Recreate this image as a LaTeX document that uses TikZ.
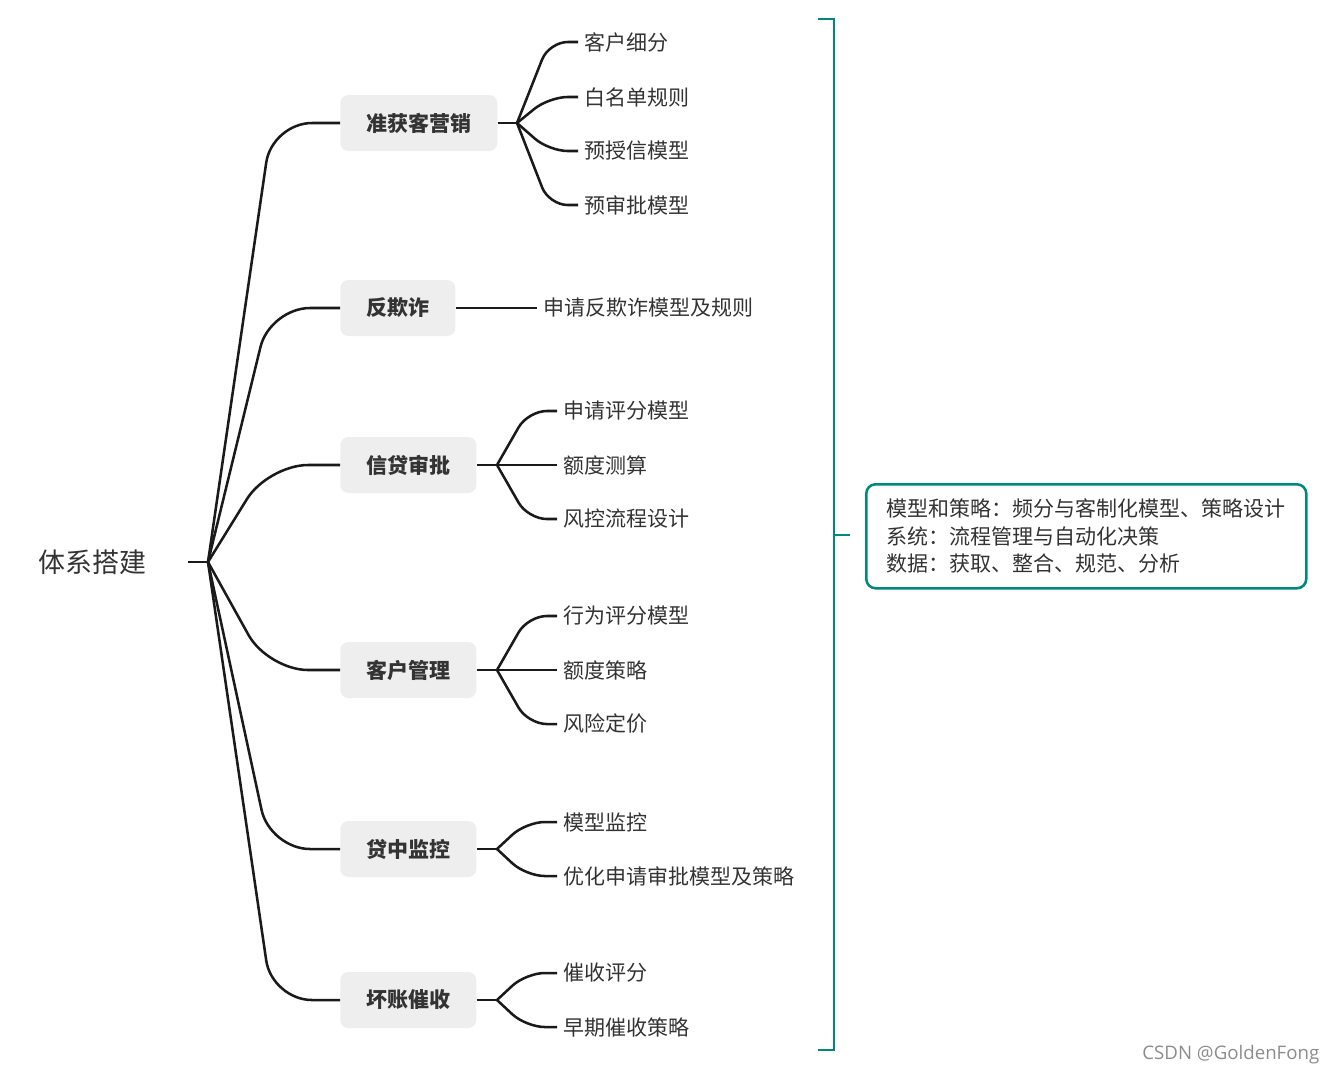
\documentclass[tikz,border=0pt]{standalone}
\usepackage{fontspec}
\setmainfont{Noto Sans CJK SC}
\newfontfamily\wmfont{Open Sans}
\usetikzlibrary{positioning}

\definecolor{tealline}{RGB}{0,137,123}
\definecolor{branchfill}{RGB}{238,238,238}
\definecolor{linedark}{RGB}{26,26,26}
\definecolor{textdark}{RGB}{51,51,51}

\tikzset{
  rootnode/.style={font=\fontsize{20.25}{24}\selectfont, text=textdark, inner xsep=31.5pt},
  branch/.style={fill=branchfill, rounded corners=6pt, font=\fontsize{15.75}{18}\selectfont\bfseries,
    text=textdark, minimum height=42pt, inner xsep=19.5pt, anchor=west},
  leaf/.style={font=\fontsize{15.75}{18}\selectfont, text=textdark, inner xsep=5pt, inner ysep=1pt, anchor=west},
  mainlink/.style={draw=linedark, line width=1.9pt, rounded corners=30pt},
  leaflink/.style={draw=linedark, line width=1.9pt, rounded corners=14pt},
  bracket/.style={draw=tealline, line width=2.2pt},
  summary/.style={draw=tealline, line width=1.9pt, rounded corners=7pt, align=left,
    font=\fontsize{15.75}{20.6}\selectfont, text=textdark, text width=300pt, minimum height=78pt,
    inner xsep=15pt, anchor=north west}
}

\begin{document}
\begin{tikzpicture}[x=0.75pt, y=-0.75pt]
    \useasboundingbox (0,0) rectangle (1338,1076);

    % Root
    \node[rootnode] (root) at (92,562) {体系搭建};
    \coordinate (hub) at (208,562);
    \draw[mainlink] (root.east) -- (hub);

    % Branches
    \node[branch] (acq) at (340,123) {准获客营销};
    \node[branch] (fraud) at (340,308) {反欺诈};
    \node[branch] (approve) at (340,465) {信贷审批};
    \node[branch] (manage) at (340,670) {客户管理};
    \node[branch] (monitor) at (340,849) {贷中监控};
    \node[branch] (collect) at (340,1000) {坏账催收};

    \draw[mainlink] (hub) -- (272,123) -- (acq.west);
    \draw[mainlink] (hub) -- (270,308) -- (fraud.west);
    \draw[mainlink] (hub) -- (268,465) -- (approve.west);
    \draw[mainlink] (hub) -- (268,670) -- (manage.west);
    \draw[mainlink] (hub) -- (270,849) -- (monitor.west);
    \draw[mainlink] (hub) -- (272,1000) -- (collect.west);

    % Leaves - 准获客营销
    \coordinate (acqfan) at (517,123);
    \node[leaf] (acq1) at (578,42) {客户细分};
    \node[leaf] (acq2) at (578,97) {白名单规则};
    \node[leaf] (acq3) at (578,151) {预授信模型};
    \node[leaf] (acq4) at (578,205) {预审批模型};
    \draw[leaflink] (acq.east) -- (acqfan);
    \draw[leaflink] (acqfan) -- (549,42) -- (acq1.west);
    \draw[leaflink] (acqfan) -- (549,97) -- (acq2.west);
    \draw[leaflink] (acqfan) -- (549,151) -- (acq3.west);
    \draw[leaflink] (acqfan) -- (549,205) -- (acq4.west);

    % Leaves - 反欺诈
    \node[leaf] (fraud1) at (537,308) {申请反欺诈模型及规则};
    \draw[leaflink] (fraud.east) -- (fraud1.west);

    % Leaves - 信贷审批
    \coordinate (approvefan) at (497,465);
    \node[leaf] (approve1) at (557,411) {申请评分模型};
    \node[leaf] (approve2) at (557,465) {额度测算};
    \node[leaf] (approve3) at (557,519) {风控流程设计};
    \draw[leaflink] (approve.east) -- (approvefan);
    \draw[leaflink] (approvefan) -- (528,411) -- (approve1.west);
    \draw[leaflink] (approvefan) -- (approve2.west);
    \draw[leaflink] (approvefan) -- (528,519) -- (approve3.west);

    % Leaves - 客户管理
    \coordinate (managefan) at (497,670);
    \node[leaf] (manage1) at (557,616) {行为评分模型};
    \node[leaf] (manage2) at (557,670) {额度策略};
    \node[leaf] (manage3) at (557,724) {风险定价};
    \draw[leaflink] (manage.east) -- (managefan);
    \draw[leaflink] (managefan) -- (528,616) -- (manage1.west);
    \draw[leaflink] (managefan) -- (manage2.west);
    \draw[leaflink] (managefan) -- (528,724) -- (manage3.west);

    % Leaves - 贷中监控
    \coordinate (monitorfan) at (497,849);
    \node[leaf] (monitor1) at (557,822) {模型监控};
    \node[leaf] (monitor2) at (557,876) {优化申请审批模型及策略};
    \draw[leaflink] (monitor.east) -- (monitorfan);
    \draw[leaflink] (monitorfan) -- (526,822) -- (monitor1.west);
    \draw[leaflink] (monitorfan) -- (526,876) -- (monitor2.west);

    % Leaves - 坏账催收
    \coordinate (collectfan) at (497,1000);
    \node[leaf] (collect1) at (557,973) {催收评分};
    \node[leaf] (collect2) at (557,1027) {早期催收策略};
    \draw[leaflink] (collect.east) -- (collectfan);
    \draw[leaflink] (collectfan) -- (526,973) -- (collect1.west);
    \draw[leaflink] (collectfan) -- (526,1027) -- (collect2.west);

    % Bracket and summary
    \draw[bracket] (818,19) -- (834,19) -- (834,1050) -- (818,1050);
    \draw[bracket] (834,535) -- (850,535);
    \node[summary] (summ) at (865,483) {模型和策略：频分与客制化模型、策略设计\\系统：流程管理与自动化决策\\数据：获取、整合、规范、分析};

    % Watermark
    \node[anchor=east, text=black!45, font=\wmfont\fontsize{14}{16}\selectfont] (wm) at (1324,1055) {CSDN @GoldenFong};
\end{tikzpicture}
\end{document}
